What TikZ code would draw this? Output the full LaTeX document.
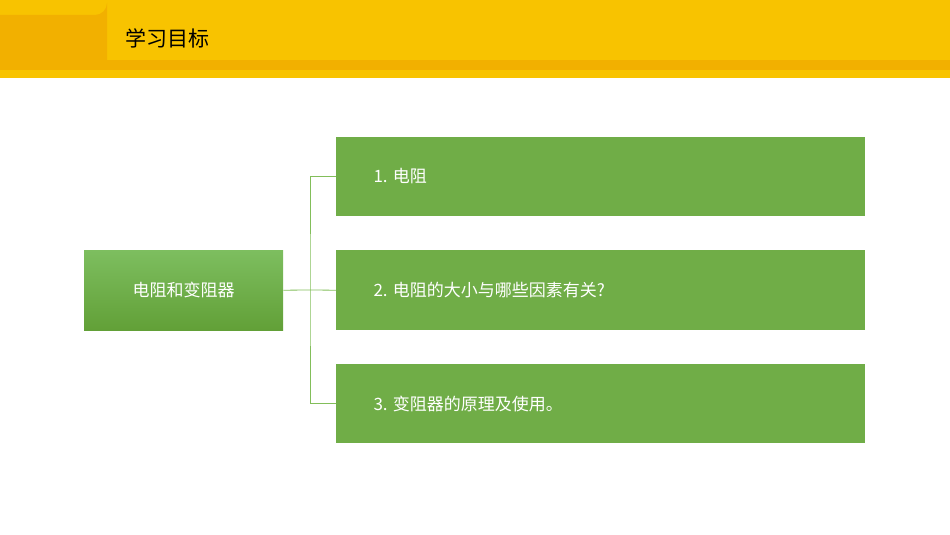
\documentclass[tikz,border=0pt]{standalone}
\usepackage{fontspec}
\setmainfont{Noto Sans CJK SC}
\begin{document}
\begin{tikzpicture}[x=1pt,y=-1pt,
  box/.style={fill=green!45!black!0,fill={rgb,255:red,112;green,173;blue,71},anchor=north west,inner sep=0,text=white,font=\fontsize{17}{20}\selectfont},
  conn/.style={draw={rgb,255:red,130;green,190;blue,90},line width=0.8pt}]
\definecolor{hy}{RGB}{248,195,0}
\definecolor{hd}{RGB}{242,176,0}
\useasboundingbox (0,0) rectangle (950,535);
\fill[hy] (0,0) rectangle (950,78);
\fill[hd] (0,60) rectangle (950,70);
\fill[hd] (0,15) -- (95,15) arc[start angle=90,end angle=0,radius=12] -- (107,60) -- (0,60) -- cycle;
\node[anchor=west,font=\fontsize{21}{24}\selectfont] (title) at (122,38) {学习目标};
\node[anchor=north west,minimum width=199,minimum height=80,inner sep=0,
  top color={rgb,255:red,125;green,190;blue,95},bottom color={rgb,255:red,98;green,160;blue,55},
  text=white,font=\fontsize{17}{20}\selectfont] (L) at (84,250) {电阻和变阻器};
\node[box,minimum width=529,minimum height=79] (a) at (336,137) {};
\node[box,minimum width=529,minimum height=80] (b) at (336,250) {};
\node[box,minimum width=529,minimum height=79] (c) at (336,364) {};
\node[anchor=west,text=white,font=\fontsize{17}{20}\selectfont] at (370,176) {1. 电阻};
\node[anchor=west,text=white,font=\fontsize{17}{20}\selectfont] at (370,290) {2. 电阻的大小与哪些因素有关?};
\node[anchor=west,text=white,font=\fontsize{17}{20}\selectfont] at (370,404) {3. 变阻器的原理及使用。};
\coordinate (j) at (310,290);
\draw[conn] (L.east) -- (j);
\draw[conn] (a.west) -| (j) |- (c.west);
\draw[conn] (j) -- (b.west);
\end{tikzpicture}
\end{document}
